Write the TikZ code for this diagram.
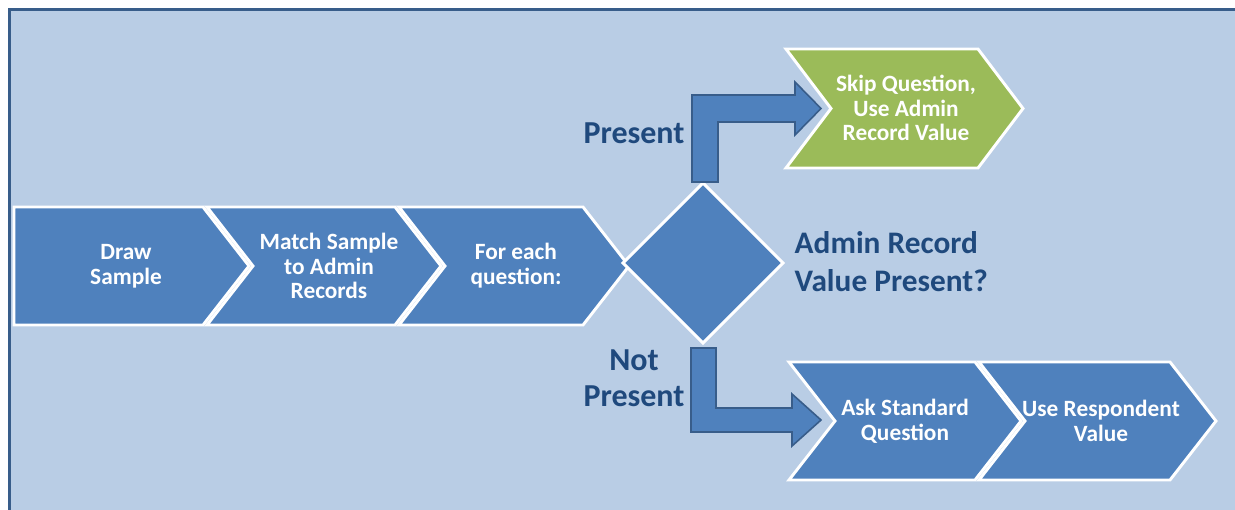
\documentclass[tikz,border=0pt]{standalone}
\usepackage{fontspec}
\setmainfont{Carlito}
\usetikzlibrary{shapes.geometric}
\definecolor{panel}{HTML}{B9CDE5}
\definecolor{panelline}{HTML}{385D8A}
\definecolor{stepblue}{HTML}{4F81BD}
\definecolor{stepgreen}{HTML}{9BBB59}
\definecolor{labelblue}{HTML}{1F497D}
\begin{document}
\begin{tikzpicture}[x=0.75pt,y=-0.75pt,
  chev/.style={fill=stepblue,draw=white,line width=2.2pt,line join=miter},
  chevgreen/.style={chev,fill=stepgreen},
  steptext/.style={text=white,font=\bfseries\fontsize{17.5}{18.6}\selectfont,align=center},
  blockarrow/.style={fill=stepblue,draw=panelline,line width=1.2pt,line join=miter},
  bigtext/.style={text=labelblue,font=\bfseries\fontsize{24}{27}\selectfont},
  question/.style={text=labelblue,font=\bfseries\fontsize{23.5}{28.5}\selectfont,align=left}]
\useasboundingbox (0,0) rectangle (1235,510);
% background panel, open to the right and bottom
\fill[panel] (9.5,9.5) rectangle (1235,510);
\draw[panelline,line width=2.4pt] (9.5,510) -- (9.5,9.5) -- (1235,9.5);

% main row of chevrons (centre line y=266)
\path[chev] (14,207) -- (203,207) -- (249,266) -- (203,325) -- (14,325) -- cycle;
\path[chev] (207,207) -- (395,207) -- (441,266) -- (395,325) -- (207,325) -- (253,266) -- cycle;
\path[chev] (399,207) -- (583,207) -- (629,266) -- (583,325) -- (399,325) -- (445,266) -- cycle;
\node[steptext] (draw) at (126,266) {Draw\\Sample};
\node[steptext] (match) at (329,266) {Match Sample\\to Admin\\Records};
\node[steptext] (each) at (516,266) {For each\\question:};

% decision diamond
\node[diamond,aspect=1,minimum width=120pt,minimum height=120pt,inner sep=0pt,outer sep=0pt,
      fill=stepblue,draw=white,line width=2.2pt] (dia) at (703,263) {};
\node[question,anchor=west] (qtext) at (790,262) {Admin Record\\Value Present?};

% upper branch
\path[chevgreen] (786,49) -- (978,49) -- (1023,108.5) -- (978,168) -- (786,168) -- (831,108.5) -- cycle;
\node[steptext] (skip) at (906,108) {Skip Question,\\Use Admin\\Record Value};
\draw[blockarrow] (692,182) -- (692,95) -- (795,95) -- (795,82) -- (821,108.5)
   -- (795,135) -- (795,122) -- (718,122) -- (718,182) -- cycle;
\node[bigtext] (present) at (634,133) {Present};

% lower branch
\path[chev] (789,362) -- (975,362) -- (1021,421) -- (975,480) -- (789,480) -- (835,421) -- cycle;
\path[chev] (979,362) -- (1170,362) -- (1216,421) -- (1170,480) -- (979,480) -- (1025,421) -- cycle;
\node[steptext] (ask) at (905,421) {Ask Standard\\Question};
\node[steptext] (use) at (1101,421) {Use Respondent\\Value};
\draw[blockarrow] (691,348) -- (691,432) -- (792,432) -- (792,446) -- (821,420)
   -- (792,394) -- (792,408) -- (716,408) -- (716,348) -- cycle;
\node[bigtext,align=center] (notpresent) at (634,378) {Not\\Present};
\end{tikzpicture}
\end{document}
